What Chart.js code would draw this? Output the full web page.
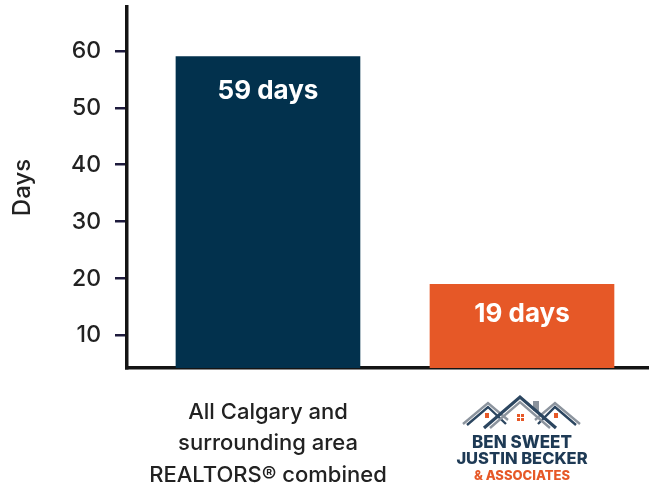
<!DOCTYPE html>
<html>
<head>
<meta charset="utf-8">
<script src="https://cdn.jsdelivr.net/npm/chart.js@4.4.0/dist/chart.umd.min.js"></script>
<style>
  html, body { margin: 0; padding: 0; background: #ffffff; }
  #wrap { width: 649px; height: 484px; }
</style>
</head>
<body>
<div id="wrap"><canvas id="c" width="649" height="484"></canvas></div>
<script>
// ---- data ----
const categories = [["All Calgary and", "surrounding area", "REALTORS® combined"], ["BEN SWEET", "JUSTIN BECKER", "& ASSOCIATES"]];
const positions = [0, 1];
const daysValues = [59, 19];
const valueLabels = ["59 days", "19 days"];
const yTicks = [10, 20, 30, 40, 50, 60];
const yTitle = "Days";

const barColors = ["#02314d", "#e65827"];
const FONT = "Inter, 'Noto Sans', sans-serif";

const overlay = {
  id: 'overlay',
  afterDatasetsDraw(chart) {
    const ctx = chart.ctx;
    const meta = chart.getDatasetMeta(0);
    ctx.save();
    ctx.fillStyle = '#ffffff';
    ctx.font = "700 26px " + FONT;
    ctx.textAlign = 'center';
    ctx.textBaseline = 'middle';
    meta.data.forEach((bar, i) => {
      const off = i === 0 ? 35 : 30;
      ctx.fillText(valueLabels[i], bar.x, bar.y + off);
    });
    ctx.restore();
  },
  afterDraw(chart) {
    const ctx = chart.ctx;
    const xs = chart.scales.x;
    const bottom = chart.chartArea.bottom;
    ctx.save();
    // first category label
    const x0 = xs.getPixelForValue(positions[0]);
    ctx.fillStyle = '#222222';
    ctx.font = "500 22px " + FONT;
    ctx.textAlign = 'center';
    ctx.textBaseline = 'middle';
    categories[0].forEach((line, k) => {
      ctx.fillText(line, x0, bottom + 44 + k * 31.5);
    });
    // second category: logo
    const x1 = xs.getPixelForValue(positions[1]);
    const top = bottom + 28;
    ctx.lineCap = 'butt';
    ctx.lineJoin = 'miter';
    function roof(px, py, lx, ly, rx, ry, col, w) {
      ctx.strokeStyle = col; ctx.lineWidth = w;
      ctx.beginPath(); ctx.moveTo(lx, ly); ctx.lineTo(px, py); ctx.lineTo(rx, ry); ctx.stroke();
    }
    // chimney
    ctx.fillStyle = '#8a929c';
    ctx.fillRect(x1 + 11, top + 5, 6, 10);
    // side roofs
    roof(x1 - 34, top + 7, x1 - 59, top + 28, x1 - 14, top + 24, '#8c949e', 2.4);
    roof(x1 - 34, top + 11, x1 - 55, top + 29, x1 - 16, top + 28, '#2c4660', 2.4);
    roof(x1 + 33, top + 7, x1 + 58, top + 28, x1 + 13, top + 24, '#8c949e', 2.4);
    roof(x1 + 33, top + 11, x1 + 54, top + 29, x1 + 16, top + 28, '#2c4660', 2.4);
    // main roof
    roof(x1 - 2, top + 1, x1 - 38, top + 32, x1 + 34, top + 32, '#2c4660', 3.2);
    roof(x1 - 2, top + 6, x1 - 32, top + 32, x1 + 28, top + 32, '#8c949e', 2.4);
    // windows
    ctx.fillStyle = '#e65827';
    ctx.fillRect(x1 - 37, top + 17, 4, 5);
    ctx.fillRect(x1 + 32, top + 17, 4, 5);
    ctx.fillRect(x1 - 5, top + 18, 3, 3);
    ctx.fillRect(x1 - 1, top + 18, 3, 3);
    ctx.fillRect(x1 - 5, top + 22, 3, 3);
    ctx.fillRect(x1 - 1, top + 22, 3, 3);
    // text
    ctx.fillStyle = '#1e3a55';
    ctx.font = "800 17px " + FONT;
    ctx.fillText(categories[1][0], x1, bottom + 75);
    ctx.font = "800 16.5px " + FONT;
    ctx.fillText(categories[1][1], x1, bottom + 91);
    ctx.fillStyle = '#e65827';
    ctx.font = "800 13px " + FONT;
    ctx.fillText(categories[1][2], x1, bottom + 108);
    ctx.restore();
  }
};

new Chart(document.getElementById('c'), {
  type: 'bar',
  data: {
    datasets: [{
      data: positions.map((p, i) => ({ x: p, y: daysValues[i] })),
      backgroundColor: barColors,
      borderWidth: 0,
      barThickness: 184
    }]
  },
  options: {
    responsive: false,
    devicePixelRatio: 1,
    animation: false,
    layout: { padding: { top: 7, right: 0, left: 0, bottom: 0 } },
    plugins: { legend: { display: false }, tooltip: { enabled: false } },
    scales: {
      x: {
        type: 'linear',
        offset: false,
        min: -0.555,
        max: 1.5,
        grid: { display: false, drawTicks: false },
        border: { display: true, color: '#141414', width: 3.5 },
        ticks: { display: false },
        afterFit(s) { s.height = 116; s.paddingLeft = 0; s.paddingRight = 0; }
      },
      y: {
        min: 4.3,
        max: 67.7,
        afterBuildTicks(s) { s.ticks = yTicks.map(v => ({ value: v })); },
        grid: { drawOnChartArea: false, drawTicks: true, tickLength: 12, color: '#1d1a3c', lineWidth: 2.5 },
        border: { display: true, color: '#141414', width: 3.5 },
        ticks: { color: '#222222', font: { family: FONT, size: 23, weight: '500' }, padding: 14 },
        title: { display: true, text: yTitle, color: '#222222', font: { family: FONT, size: 24, weight: '500' }, padding: { top: 8, bottom: 0 } },
        afterFit(s) { s.width = 127; s.paddingTop = 0; s.paddingBottom = 0; }
      }
    }
  },
  plugins: [overlay]
});
</script>
</body>
</html>
